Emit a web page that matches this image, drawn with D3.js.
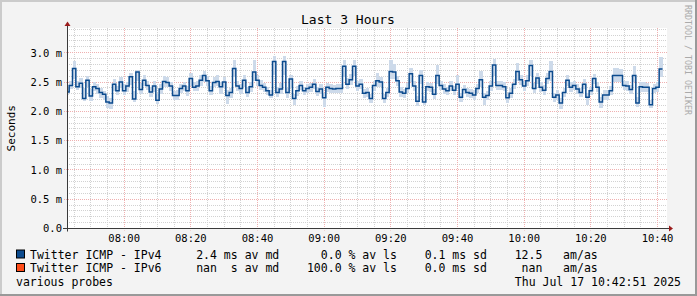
<!DOCTYPE html>
<html><head><meta charset="utf-8">
<script src="https://cdn.jsdelivr.net/npm/d3@7"></script>
<style>
html,body{margin:0;padding:0;background:#f3f3f3;}
svg{display:block;}
text{font-family:"DejaVu Sans Mono",monospace;fill:#000;}
</style></head><body>
<svg id="chart" width="697" height="296"></svg>
<script>
const title = "Last 3 Hours";
const yAxisTitle = "Seconds";
const watermark = "RRDTOOL / TOBI OETIKER";
const rangeStart = "2025-07-17T07:42:51Z";
const rangeEnd = "2025-07-17T10:42:51Z";
const firstStep = "2025-07-17T07:42:30Z";
const stepMinutes = 1;

// median RTT per step (ms)
const medianMs = [2.33,2.44,2.73,2.42,2.48,2.22,2.53,2.26,2.42,2.39,2.32,2.29,2.16,2.14,2.46,2.35,2.50,2.35,2.43,2.59,
2.21,2.67,2.37,2.53,2.44,2.33,2.43,2.19,2.38,2.51,2.49,2.43,2.27,2.27,2.39,2.43,2.35,2.56,2.41,2.43,
2.53,2.61,2.52,2.35,2.49,2.51,2.42,2.50,2.27,2.32,2.73,2.43,2.39,2.53,2.32,2.42,2.67,2.53,2.44,2.41,
2.35,2.28,2.85,2.32,2.38,2.85,2.32,2.55,2.22,2.35,2.44,2.35,2.39,2.41,2.46,2.34,2.38,2.23,2.41,2.39,
2.38,2.39,2.39,2.77,2.46,2.54,2.77,2.43,2.46,2.31,2.32,2.22,2.44,2.52,2.50,2.22,2.32,2.68,2.67,2.52,
2.33,2.31,2.39,2.64,2.43,2.17,2.61,2.16,2.42,2.41,2.29,2.61,2.44,2.38,2.35,2.43,2.36,2.46,2.24,2.37,
2.32,2.31,2.28,2.39,2.54,2.24,2.27,2.43,2.79,2.44,2.44,2.42,2.23,2.31,2.46,2.68,2.54,2.43,2.52,2.78,
2.39,2.57,2.41,2.36,2.56,2.68,2.24,2.28,2.14,2.32,2.53,2.41,2.44,2.38,2.32,2.46,2.24,2.35,2.56,2.41,
2.16,2.28,2.28,2.35,2.61,2.61,2.61,2.44,2.43,2.37,2.61,2.14,2.42,2.41,2.41,2.11,2.39,2.41,2.72];

// smoke (ping spread) per step (ms)
const smokeLoMs = [2.27,2.38,2.55,2.36,2.40,2.18,2.42,2.17,2.34,2.30,2.22,2.20,2.06,2.04,2.34,2.28,2.40,2.28,2.33,2.45,
2.16,2.52,2.30,2.44,2.36,2.25,2.33,2.13,2.30,2.42,2.42,2.35,2.20,2.20,2.31,2.34,2.26,2.44,2.34,2.35,
2.44,2.50,2.44,2.28,2.42,2.43,2.30,2.40,2.12,2.22,2.58,2.34,2.30,2.42,2.25,2.33,2.52,2.44,2.36,2.33,
2.28,2.22,2.62,2.24,2.30,2.62,2.22,2.40,2.10,2.26,2.36,2.28,2.32,2.33,2.38,2.26,2.30,2.07,2.33,2.32,
2.31,2.32,2.31,2.58,2.38,2.45,2.60,2.35,2.38,2.22,2.24,2.14,2.35,2.42,2.42,2.15,2.24,2.55,2.55,2.44,
2.25,2.23,2.31,2.50,2.35,2.09,2.46,2.10,2.34,2.33,2.21,2.46,2.36,2.30,2.27,2.35,2.28,2.38,2.16,2.29,
2.24,2.23,2.20,2.31,2.42,2.10,2.19,2.35,2.60,2.36,2.36,2.34,2.15,2.23,2.38,2.52,2.45,2.35,2.44,2.60,
2.31,2.47,2.33,2.28,2.46,2.52,2.16,2.19,2.04,2.24,2.43,2.33,2.36,2.30,2.24,2.38,2.10,2.27,2.46,2.33,
2.05,2.20,2.20,2.27,2.50,2.50,2.50,2.36,2.35,2.29,2.50,2.08,2.33,2.33,2.33,2.06,2.31,2.33,2.58];
const smokeHiMs = [2.42,2.52,2.86,2.52,2.56,2.40,2.60,2.38,2.50,2.46,2.40,2.35,2.26,2.22,2.55,2.44,2.58,2.46,2.50,2.66,
2.35,2.70,2.48,2.62,2.52,2.42,2.52,2.30,2.46,2.60,2.58,2.50,2.35,2.36,2.47,2.50,2.43,2.66,2.50,2.52,
2.62,2.68,2.60,2.44,2.58,2.62,2.50,2.58,2.36,2.40,2.88,2.52,2.46,2.62,2.42,2.50,2.88,2.62,2.54,2.48,
2.42,2.36,2.94,2.42,2.48,2.94,2.40,2.62,2.30,2.44,2.52,2.42,2.46,2.48,2.55,2.42,2.46,2.32,2.48,2.46,
2.45,2.46,2.46,2.88,2.56,2.64,2.88,2.52,2.55,2.38,2.40,2.30,2.52,2.66,2.58,2.30,2.40,2.88,2.80,2.60,
2.42,2.38,2.48,2.74,2.52,2.26,2.71,2.26,2.50,2.48,2.38,2.79,2.52,2.46,2.42,2.52,2.44,2.62,2.32,2.45,
2.40,2.38,2.36,2.47,2.68,2.32,2.35,2.52,2.89,2.52,2.52,2.50,2.30,2.40,2.55,2.83,2.62,2.52,2.62,2.88,
2.48,2.65,2.50,2.45,2.66,2.85,2.32,2.36,2.22,2.40,2.62,2.50,2.52,2.46,2.40,2.55,2.32,2.42,2.64,2.50,
2.24,2.36,2.36,2.44,2.74,2.74,2.72,2.52,2.52,2.45,2.77,2.24,2.50,2.50,2.49,2.20,2.47,2.50,2.92];

const yTickValues = [0, 0.5, 1.0, 1.5, 2.0, 2.5, 3.0];
const yTickLabels = ["0.0", "0.5 m", "1.0 m", "1.5 m", "2.0 m", "2.5 m", "3.0 m"];
const xTickLabels = ["08:00","08:20","08:40","09:00","09:20","09:40","10:00","10:20","10:40"];

const legendNames = ["Twitter ICMP - IPv4", "Twitter ICMP - IPv6"];
const legendColors = ["#0c4b8e", "#ff4d1a"];
const legendMedian = ["2.4 ms", "nan  s"];
const legendLoss = ["0.0", "100.0"];
const legendSd = ["0.1 ms", "0.0 ms"];
const legendAmAs = ["12.5", "nan"];
const footLeft = "various probes";
const footRight = "Thu Jul 17 10:42:51 2025";

const W = 697, H = 296;
const P = {l: 67, r: 667, t: 28, b: 228.5};
const svg = d3.select("#chart");

const x = d3.scaleUtc().domain([new Date(rangeStart), new Date(rangeEnd)]).range([P.l, P.r]);
const y = d3.scaleLinear().domain([0, 3]).range([228.5, 52.7]);
const px = v => Math.floor(v) + 0.5;

// background and frame shading
svg.append("rect").attr("width", W).attr("height", H).attr("fill", "#f3f3f3");
svg.append("rect").attr("x",0).attr("y",0).attr("width",W).attr("height",2).attr("fill","#cbcbcb");
svg.append("rect").attr("x",0).attr("y",0).attr("width",2).attr("height",H).attr("fill","#cbcbcb");
svg.append("rect").attr("x",0).attr("y",H-2).attr("width",W).attr("height",2).attr("fill","#999");
svg.append("rect").attr("x",W-2).attr("y",0).attr("width",2).attr("height",H).attr("fill","#999");

// canvas
svg.append("rect").attr("x", P.l).attr("y", P.t).attr("width", P.r - P.l).attr("height", P.b - P.t).attr("fill", "#fff");

svg.append("defs").append("clipPath").attr("id","clip")
  .append("rect").attr("x", P.l).attr("y", P.t).attr("width", P.r - P.l).attr("height", P.b - P.t);

const grid = svg.append("g");
// minor horizontal every 0.1 ms
const yMinor = d3.range(1, 35).map(d => d / 10).filter(v => Math.round(v * 10) % 5 !== 0);
grid.selectAll(".hmin").data(yMinor).join("line")
  .attr("x1", P.l).attr("x2", P.r).attr("y1", d => px(y(d))).attr("y2", d => px(y(d)))
  .attr("stroke", "#d2d2d2").attr("stroke-dasharray", "1,1");
// minor vertical every 5 min
const t5 = d3.utcMinute.every(5).range(new Date(rangeStart), new Date(rangeEnd)).filter(d => d.getUTCMinutes() % 20 !== 0);
grid.selectAll(".vmin").data(t5).join("line")
  .attr("x1", d => px(x(d))).attr("x2", d => px(x(d))).attr("y1", P.t).attr("y2", P.b)
  .attr("stroke", "#d2d2d2").attr("stroke-dasharray", "1,1");
// major horizontal
grid.selectAll(".hmaj").data(yTickValues.filter(v => v > 0)).join("line")
  .attr("x1", P.l - 3).attr("x2", P.r).attr("y1", d => px(y(d))).attr("y2", d => px(y(d)))
  .attr("stroke", "#efb0b0").attr("stroke-dasharray", "1,1");
// major vertical
const t20 = d3.utcMinute.every(20).range(new Date(rangeStart), new Date(rangeEnd));
grid.selectAll(".vmaj").data(t20).join("line")
  .attr("x1", d => px(x(d))).attr("x2", d => px(x(d))).attr("y1", P.t).attr("y2", P.b + 2)
  .attr("stroke", "#efb0b0").attr("stroke-dasharray", "1,1");

// data
const s0 = new Date(firstStep);
const stepT = i => d3.utcMinute.offset(s0, i * stepMinutes);
const dataG = svg.append("g").attr("clip-path", "url(#clip)");
dataG.selectAll(".smoke").data(medianMs).join("rect")
  .attr("x", (d, i) => x(stepT(i)))
  .attr("width", (d, i) => x(stepT(i + 1)) - x(stepT(i)))
  .attr("y", (d, i) => y(smokeHiMs[i]))
  .attr("height", (d, i) => y(smokeLoMs[i]) - y(smokeHiMs[i]))
  .attr("fill", "#cddaea").attr("shape-rendering", "crispEdges");

const pts = medianMs.map((v, i) => [stepT(i), v]);
pts.push([stepT(medianMs.length), medianMs[medianMs.length - 1]]);
const line = d3.line().x(d => x(d[0])).y(d => y(d[1])).curve(d3.curveStepAfter);
dataG.append("path").datum(pts).attr("d", line)
  .attr("fill", "none").attr("stroke", legendColors[0]).attr("stroke-width", 1.5);

// axes
const axisC = "#3a3a3a", arrowC = "#9b1c1c";
svg.append("line").attr("x1", P.l - 4).attr("x2", P.r + 2).attr("y1", P.b).attr("y2", P.b).attr("stroke", axisC);
svg.append("line").attr("x1", P.l + 0.5).attr("x2", P.l + 0.5).attr("y1", P.b + 3).attr("y2", P.t - 2).attr("stroke", axisC);
svg.append("path").attr("d", `M${P.r + 2},${P.b - 3}L${P.r + 6},${P.b}L${P.r + 2},${P.b + 3}Z`).attr("fill", arrowC);
svg.append("path").attr("d", `M${P.l + 0.5 - 3},${P.t - 2}L${P.l + 0.5},${P.t - 6.5}L${P.l + 0.5 + 3},${P.t - 2}Z`).attr("fill", arrowC);

// y labels
svg.selectAll(".ylab").data(yTickValues).join("text")
  .attr("x", 62).attr("y", d => y(d) + 3.8).attr("text-anchor", "end")
  .attr("font-size", "10.5px").text((d, i) => yTickLabels[i]);
// x labels
const xTicks = d3.utcMinute.every(20).range(new Date(rangeStart), new Date(rangeEnd));
svg.selectAll(".xlab").data(xTicks).join("text")
  .attr("x", d => x(d)).attr("y", 241.5).attr("text-anchor", "middle")
  .attr("font-size", "10.5px").text((d, i) => xTickLabels[i]);

// title
svg.append("text").attr("x", 348).attr("y", 23.5).attr("text-anchor", "middle")
  .attr("font-size", "13px").text(title);
// y axis title
svg.append("text").attr("transform", `translate(15,${(P.t + P.b) / 2}) rotate(-90)`)
  .attr("text-anchor", "middle").attr("font-size", "11px").text(yAxisTitle);
// watermark
svg.append("text").attr("transform", `translate(684.5,5) rotate(90)`)
  .attr("font-size", "8.3px").style("fill", "#aaa").text(watermark);

// legend
const nb = s => s.replace(/ /g, "\u00A0");
const rowsY = [258.5, 272];
legendNames.forEach((name, i) => {
  const str = name.padEnd(24) + (legendMedian[i] + " av md").padEnd(16)
    + (legendLoss[i].padStart(5) + " % av ls").padEnd(17)
    + (legendSd[i] + " sd") + legendAmAs[i].padStart(8) + "   am/as";
  svg.append("rect").attr("x", 16.5).attr("y", rowsY[i] - 8.5).attr("width", 8).attr("height", 8)
    .attr("fill", legendColors[i]).attr("stroke", "#000").attr("stroke-width", 1);
  svg.append("text").attr("x", 30).attr("y", rowsY[i]).attr("font-size", "11.5px").text(nb(str));
});
svg.append("text").attr("x", 16).attr("y", 286).attr("font-size", "11.5px").text(nb(footLeft));
svg.append("text").attr("x", 681).attr("y", 286).attr("text-anchor", "end").attr("font-size", "11.5px").text(nb(footRight));
</script>
</body></html>
